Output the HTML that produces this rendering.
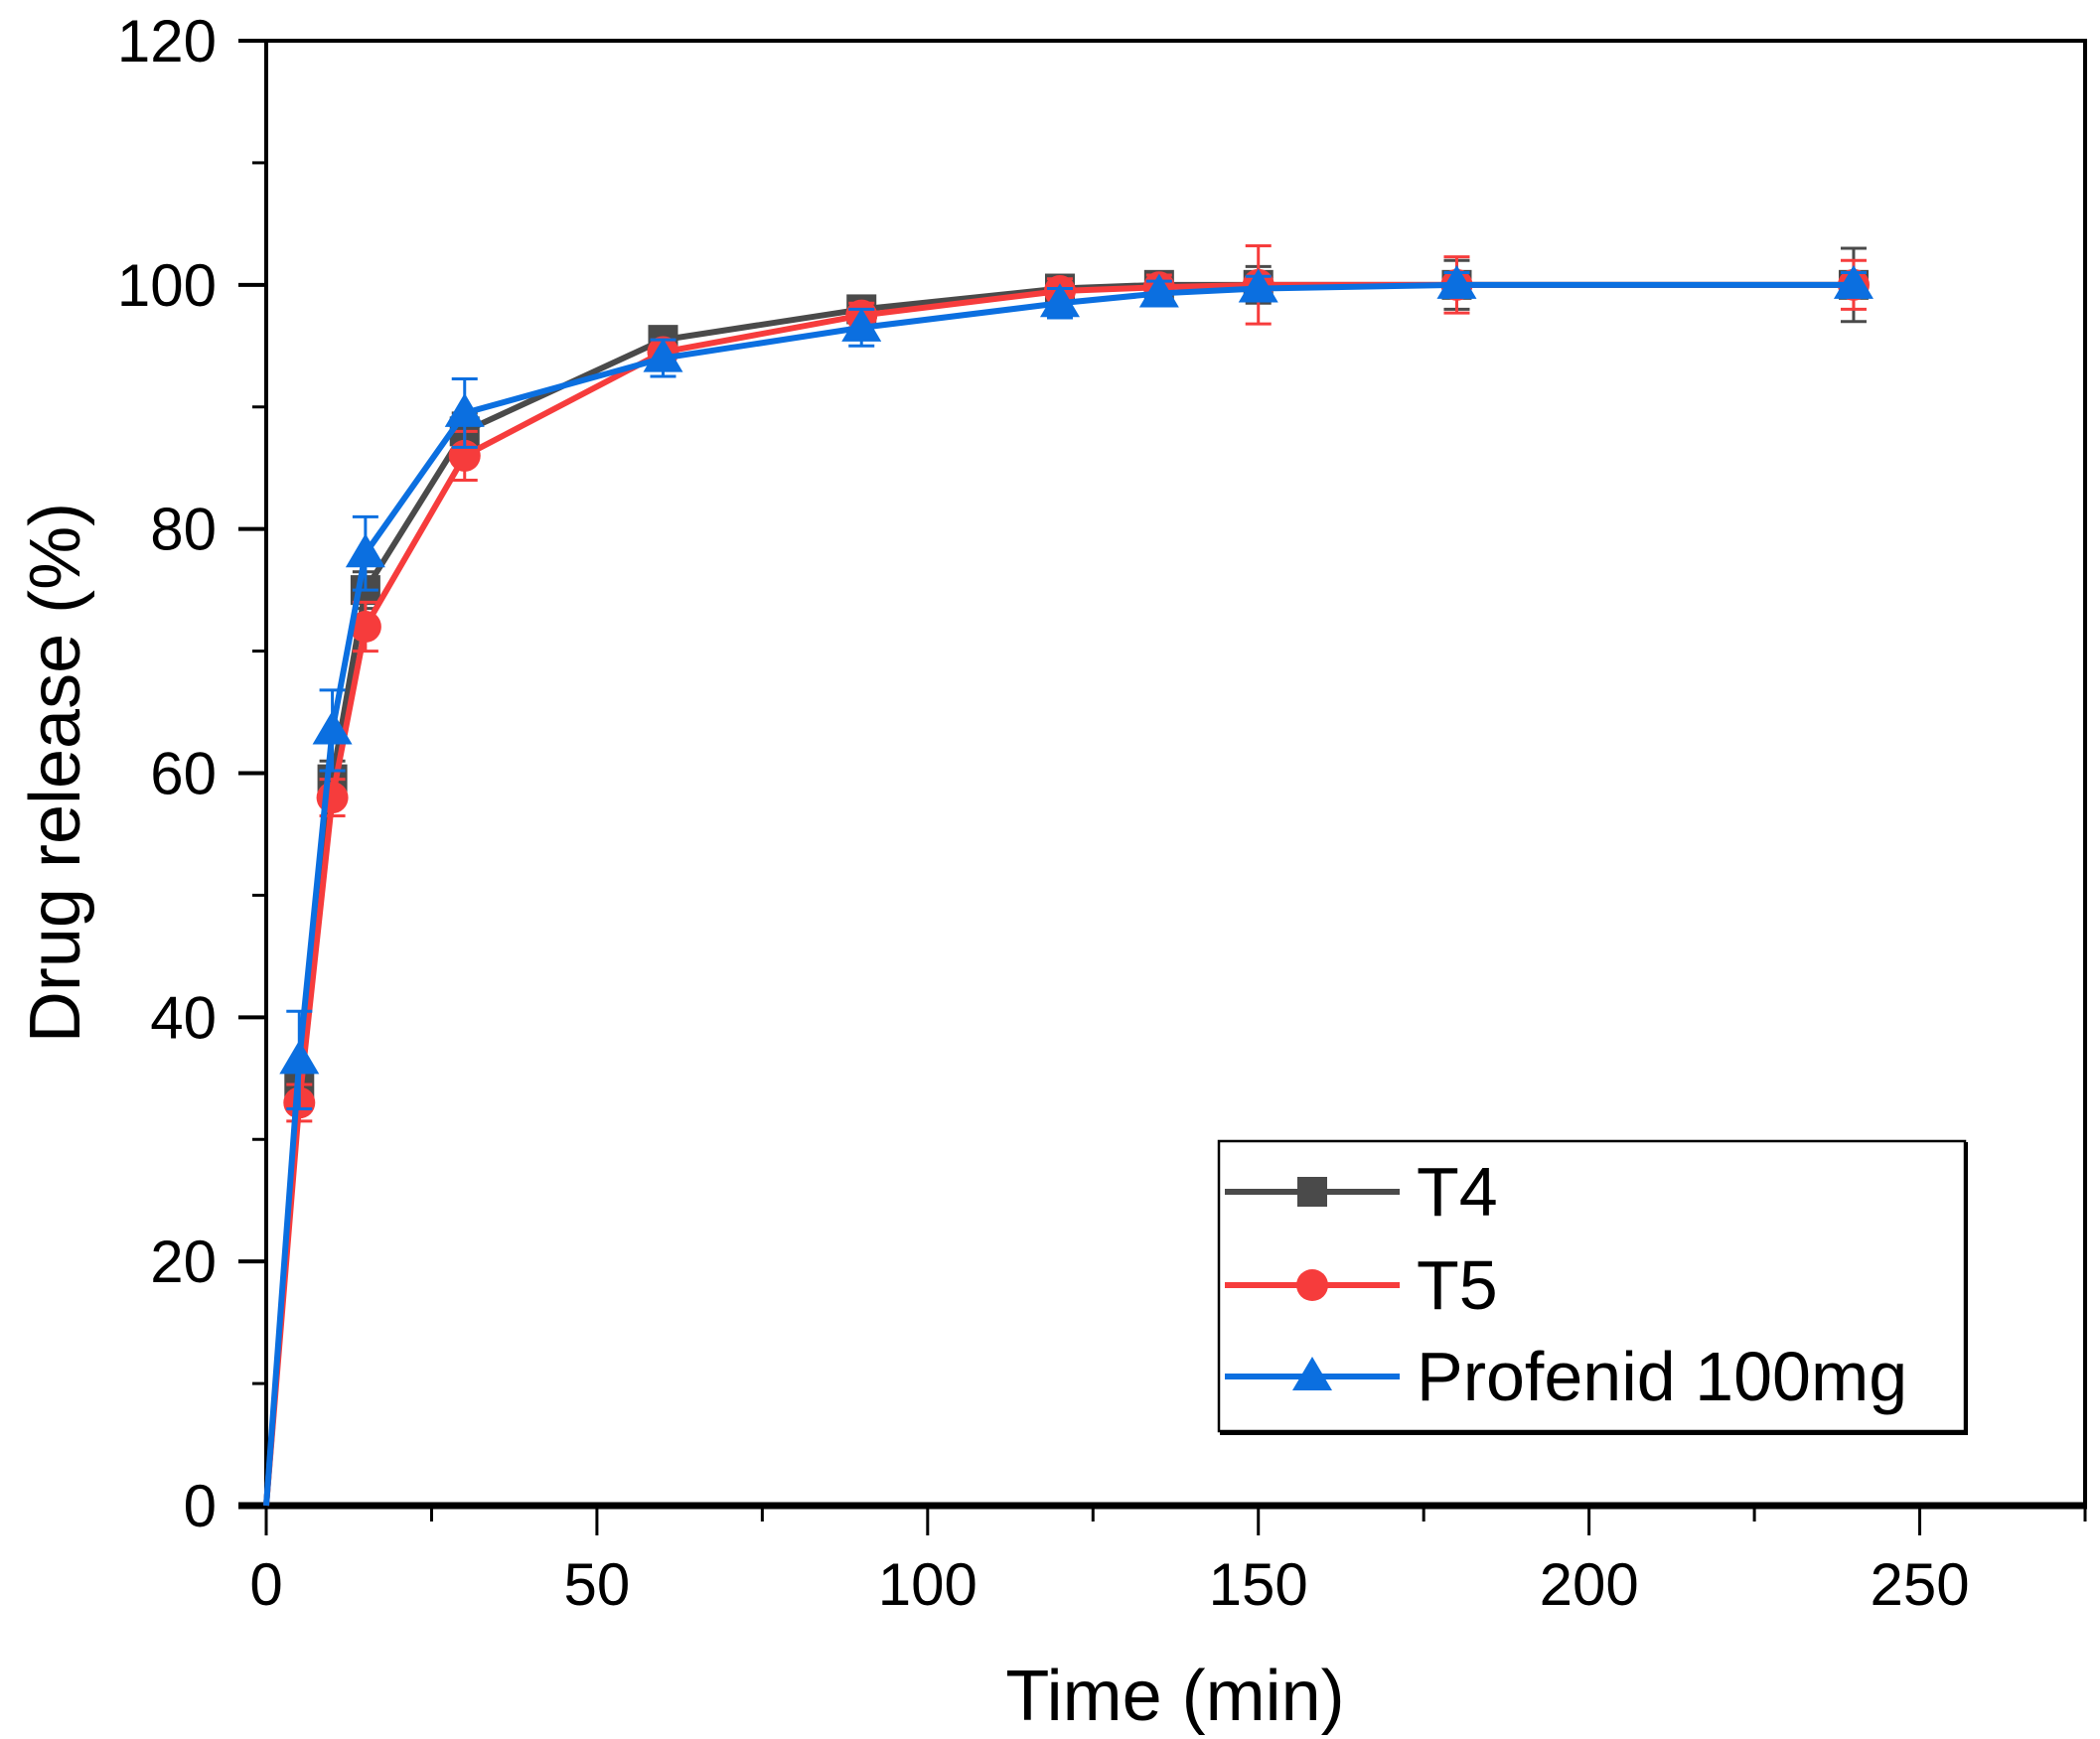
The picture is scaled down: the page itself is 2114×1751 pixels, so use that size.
<!DOCTYPE html>
<html><head><meta charset="utf-8"><style>
html,body{margin:0;padding:0;background:#fff;}
svg{display:block;font-family:"Liberation Sans",Arial,sans-serif;}
</style></head><body>
<svg id="chart" width="2114" height="1751" viewBox="0 0 2114 1751" xmlns="http://www.w3.org/2000/svg">
<g id="axes"></g>
<g id="series"></g>
<g id="legend"></g>
<text x="0" y="0" transform="translate(80,778) rotate(-90)" text-anchor="middle" font-size="72">Drug release (%)</text>
<text x="1183" y="1732" text-anchor="middle" font-size="72">Time (min)</text>
</svg>
<script>
const times = [0,5,10,15,30,60,90,120,135,150,180,240];
const t4 = [0,34.5,59.5,75,88,95.5,98,99.7,100,100,100,100];
const t4Err = [0,1.5,1.5,1.5,1.5,1,1,1,1,1.5,2,3];
const t5 = [0,33,58,72,86,94.5,97.5,99.5,99.8,100,100,100];
const t5Err = [0,1.5,1.5,2,2,1,1,1,1,3.2,2.3,2];
const prof = [0,36.5,63.5,78,89.5,94,96.5,98.5,99.3,99.7,100,100];
const profErr = [0,4,3.3,3,2.8,1.5,1.5,1.2,1,1,1,1];
const xTicks = [0,50,100,150,200,250];
const yTicks = [0,20,40,60,80,100,120];
const seriesNames = ["T4","T5","Profenid 100mg"];

const NS="http://www.w3.org/2000/svg";
const X0=268,X1=2099,Y0=1516,Y1=41;
const xs=v=>X0+(v/275)*(X1-X0);
const ys=v=>Y0-(v/120)*(Y0-Y1);
function mk(tag,attrs,parent){const e=document.createElementNS(NS,tag);for(const k in attrs)e.setAttribute(k,attrs[k]);parent.appendChild(e);return e;}
const axes=document.getElementById('axes');
let fr=mk('rect',{x:X0,y:Y1,width:X1-X0,height:Y0-Y1,fill:'none',stroke:'#000','stroke-width':4},axes);


let xa=mk('line',{x1:240,y1:Y0,x2:X1+2,y2:Y0,stroke:'#000','stroke-width':7},axes);


let ya=mk('line',{x1:X0,y1:Y1,x2:X0,y2:Y0,stroke:'#000','stroke-width':4},axes);


let ta=mk('line',{x1:240,y1:Y1,x2:X0,y2:Y1,stroke:'#000','stroke-width':4},axes);


xTicks.forEach(v=>{
  let t=mk('line',{x1:xs(v),y1:Y0,x2:xs(v),y2:Y0+30,stroke:'#000','stroke-width':3},axes);
  
  
  let m=mk('line',{x1:xs(v+25),y1:Y0,x2:xs(v+25),y2:Y0+16,stroke:'#000','stroke-width':3},axes);
  
  
  let l=mk('text',{x:xs(v),y:Y0+100,'text-anchor':'middle','font-size':60},axes);
  l.textContent=v;
  
  
});
yTicks.forEach(v=>{
  let t=mk('line',{x1:X0-28,y1:ys(v),x2:X0,y2:ys(v),stroke:'#000','stroke-width':4},axes);
  
  
  if(v<120){let m=mk('line',{x1:X0-14,y1:ys(v+10),x2:X0,y2:ys(v+10),stroke:'#000','stroke-width':3},axes);
  
  }
  let l=mk('text',{x:218,y:ys(v)+21,'text-anchor':'end','font-size':60},axes);
  l.textContent=v;
  
  
});
const ser=document.getElementById('series');
function marker(type,cx,cy,color,g){
  let e;
  if(type==='sq') e=mk('rect',{x:cx-15,y:cy-15,width:30,height:30,fill:color},g);
  else if(type==='ci') e=mk('circle',{cx:cx,cy:cy,r:16,fill:color},g);
  else e=mk('polygon',{points:`${cx},${cy-20} ${cx-20},${cy+14} ${cx+20},${cy+14}`,fill:color},g);
  return e;
}
function drawSeries(vals,errs,color,type,name){
  const g=mk('g',{},ser);
  
  
  vals.forEach((v,i)=>{
    if(errs[i]>0){
      const x=xs(times[i]);
      let e=mk('path',{d:`M${x},${ys(v-errs[i])}V${ys(v+errs[i])}M${x-13},${ys(v-errs[i])}h26M${x-13},${ys(v+errs[i])}h26`,stroke:color,'stroke-width':3,fill:'none'},g);
      
      
    }
  });
  let p=mk('polyline',{points:vals.map((v,i)=>xs(times[i])+','+ys(v)).join(' '),fill:'none',stroke:color,'stroke-width':6},g);
  
  
  vals.forEach((v,i)=>{
    if(times[i]===0) return;
    let m=marker(type,xs(times[i]),ys(v),color,g);
    
    
  });
}
drawSeries(t4,t4Err,'#4a4a4a','sq','t4');
drawSeries(t5,t5Err,'#f63c3c','ci','t5');
drawSeries(prof,profErr,'#0b6fe0','tr','profenid');
const lg=document.getElementById('legend');
let box=mk('rect',{x:1227,y:1149,width:751,height:292,fill:'#fff',stroke:'#000','stroke-width':2.5},lg);


let sh=mk('path',{d:'M1228,1443H1979V1150',stroke:'#000','stroke-width':4,fill:'none'},lg);


const lcols=['#4a4a4a','#f63c3c','#0b6fe0'],ltypes=['sq','ci','tr'],lys=[1200,1294,1386];
seriesNames.forEach((n,i)=>{
  const g=mk('g',{},lg);
  
  
  mk('line',{x1:1233,y1:lys[i],x2:1409,y2:lys[i],stroke:lcols[i],'stroke-width':6},g);
  marker(ltypes[i],1321,lys[i],lcols[i],g);
  let t=mk('text',{x:1426,y:lys[i]+24,'font-size':70},g);
  t.textContent=n;
});
</script>
</body></html>
